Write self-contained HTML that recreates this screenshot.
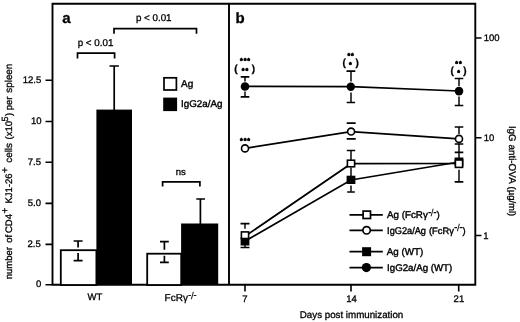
<!DOCTYPE html>
<html>
<head>
<meta charset="utf-8">
<title>Figure</title>
<style>
html,body{margin:0;padding:0;background:#fff;}
body{width:520px;height:322px;overflow:hidden;}
svg{display:block;}
text{font-family:"Liberation Sans",Arial,Helvetica,sans-serif;fill:#000;stroke:#000;stroke-width:0.3px;text-rendering:geometricPrecision;}
.t{font-size:9.5px;}
.l{font-size:10px;}
.l text,text.l{stroke-width:0.4px;}
.b{font-size:15px;font-weight:bold;}
.s{font-size:7px;font-weight:bold;letter-spacing:0.9px;}
.s text{stroke-width:0.75px;stroke-linejoin:round;}
.p{font-size:10px;font-weight:bold;}
.ln{stroke:#000;stroke-width:1.7;fill:none;}
.fr{stroke:#000;stroke-width:1.9;fill:none;}
.tk{stroke:#000;stroke-width:1.6;fill:none;}
.st{stroke:#000;stroke-width:1.45;fill:none;}
</style>
</head>
<body>
<svg width="520" height="322" viewBox="0 0 520 322">
<rect x="0" y="0" width="520" height="322" fill="#fff"/>

<!-- frame -->
<path class="fr" d="M52.5 284.7 V3.8 H475.3 V284.7 Z"/>
<path class="fr" d="M229 3.8 V284.7"/>

<!-- panel a y ticks -->
<path class="tk" d="M45.5 80.2 H52 M45.5 121.5 H52 M45.5 162.3 H52 M45.5 203.4 H52 M45.5 244.4 H52 M45.5 284.7 H52"/>
<g class="t" text-anchor="end">
<text x="41.2" y="82.7">12.5</text>
<text x="41.5" y="123.9">10</text>
<text x="41" y="164.8">7.5</text>
<text x="41" y="205.7">5.0</text>
<text x="40.8" y="246.7">2.5</text>
<text x="41.2" y="287.4">0</text>
</g>

<!-- y label a -->
<g class="t" style="font-size:9.5px">
<text transform="translate(12.3 279.3) rotate(-90)">number</text>
<text transform="translate(12.3 242.7) rotate(-90)">of</text>
<text transform="translate(12.3 233) rotate(-90)">CD4</text>
<text transform="translate(8.4 213.4) rotate(-90)" style="font-size:10px">+</text>
<text transform="translate(12.3 203.6) rotate(-90)">KJ1-26</text>
<text transform="translate(8.4 172.9) rotate(-90)" style="font-size:10px">+</text>
<text transform="translate(12.3 162.8) rotate(-90)" style="font-size:9.9px">cells</text>
<text transform="translate(12.3 139.5) rotate(-90)">(x10</text>
<text transform="translate(7.7 121.4) rotate(-90)" style="font-size:9px">5</text>
<text transform="translate(12.3 116) rotate(-90)">)</text>
<text transform="translate(12.3 110.2) rotate(-90)">per</text>
<text transform="translate(12.3 92.7) rotate(-90)" style="font-size:9.85px">spleen</text>
</g>

<!-- bars -->
<rect x="60.8" y="250.2" width="35.6" height="34.8" fill="#fff" stroke="#000" stroke-width="1.8"/>
<rect x="96.4" y="109.6" width="35.6" height="175.4" fill="#000"/>
<rect x="147.2" y="253.7" width="34" height="31.3" fill="#fff" stroke="#000" stroke-width="1.8"/>
<rect x="181.1" y="223.5" width="37.1" height="61.5" fill="#000"/>

<!-- error bars a -->
<path class="ln" d="M73.6 241 H82.6 M78.1 241 V247.6 M78.1 253 V260.7 M73.6 260.7 H82.6"/>
<path class="ln" d="M109.5 66 H118.9 M114.2 66 V110"/>
<path class="ln" d="M160 241.7 H168.8 M164.4 241.7 V249.8 M164.4 255.8 V262.4 M160 262.4 H168.8"/>
<path class="ln" d="M196.3 199 H205 M200.4 199 V224"/>

<!-- brackets -->
<path class="ln" d="M77.5 58.6 V53.2 H114.6 V58.6"/>
<path class="ln" d="M114 33.8 V28.6 H196.5 V33.8"/>
<path class="ln" d="M162.6 186.6 V181.8 H199.9 V186.6"/>
<text class="t" x="77.7" y="45.7" style="font-size:9.8px">p &lt; 0.01</text>
<text class="t" x="135.9" y="21.3" style="font-size:9.8px">p &lt; 0.01</text>
<text class="t" x="175.7" y="174.6">ns</text>

<!-- legend a -->
<rect x="164" y="77.8" width="12.4" height="12.2" fill="#fff" stroke="#000" stroke-width="1.7"/>
<rect x="163.2" y="97.6" width="13.9" height="13.5" fill="#000"/>
<text class="l" x="181" y="86.5">Ag</text>
<text class="l" x="181" y="107.3" style="font-size:9.8px">IgG2a/Ag</text>

<!-- x labels a -->
<text class="t" x="87.6" y="300">WT</text>
<text class="t" style="font-size:10px" x="164.6" y="301.3">FcRγ<tspan dy="-3.6" dx="0.3" font-size="9px">-</tspan><tspan dy="1.1" dx="-0.3" font-size="10px" stroke-width="0.1">/</tspan><tspan dy="-1.1" dx="-0.2" font-size="9px">-</tspan></text>

<!-- panel letters -->
<text class="b" x="62.3" y="23.2">a</text>
<text class="b" x="235.6" y="22.8">b</text>

<!-- panel b axes ticks -->
<path class="tk" d="M245 285 V291.5 M351 285 V291.5 M458.7 285 V291.5"/>
<g class="t" text-anchor="middle">
<text x="245" y="301.6">7</text>
<text x="351.6" y="301.9">14</text>
<text x="458.9" y="301.6">21</text>
</g>
<text class="t" x="299.8" y="317.9" style="font-size:9.75px">Days post immunization</text>
<path class="tk" d="M476 38 H481.5 M476 137.7 H481.5 M476 235.5 H481.5"/>
<g class="t">
<text x="483.7" y="41.4">100</text>
<text x="483.7" y="140.9">10</text>
<text x="483.3" y="238.9">1</text>
</g>
<text class="t" transform="translate(508.6 125.9) rotate(90)" style="font-size:9.7px">IgG</text>
<text class="t" transform="translate(508.6 144.4) rotate(90)" style="font-size:9.9px">anti-OVA</text>
<text class="t" transform="translate(508.6 186.5) rotate(90)" style="font-size:9.5px">(µg/ml)</text>

<!-- data lines b -->
<path class="ln" d="M245 241.2 L351 180 L459 162"/>
<path class="ln" d="M245 236.3 L351 163.7 L459 163.5"/>
<path class="ln" d="M245 148.4 L351 131.6 L459 138.9"/>
<path class="ln" d="M245 86.4 L351 86.6 L459 91"/>

<!-- error bars b -->
<g class="st">
<path d="M245 76.8 V81.4 M245 91.6 V96.8"/>
<path d="M351 71.2 V81.4 M351 92.4 V102.6"/>
<path d="M459 78.5 V86 M459 96.4 V105.5"/>
<path d="M459 127 V134 M459 143.6 V160 M459 169.8 V181.8"/>
<path d="M245 224 V228.8 M245 245 V247.5"/>
<path d="M351 150.5 V160 M351 167.5 V176 M351 185.6 V191.8"/>
</g>
<path class="ln" d="M240.7 76.8 H249.3 M240.7 96.8 H249.3 M346.5 71.2 H355.3 M346.7 102.5 H355.1 M454.7 78.5 H463.3 M454.7 105.5 H463.3"/>
<path class="ln" d="M346.7 123.1 H355.7 M346.7 138.8 H355.7"/>
<path class="ln" d="M454.7 127 H463.3 M454.7 144 H463.3 M454.7 152.3 H463.3 M454.7 181.8 H463.3"/>
<path class="ln" d="M240.5 223.6 H249.5 M240.5 247.5 H249.5"/>
<path class="ln" d="M346.8 150.5 H355.2 M347.2 192 H354.8"/>

<!-- markers b -->
<rect x="240.6" y="237.2" width="8.8" height="8.3" fill="#000"/>
<rect x="346.6" y="175.7" width="8.8" height="8.3" fill="#000"/>
<rect x="454.6" y="157.5" width="8.8" height="8.6" fill="#000"/>
<g fill="#fff" stroke="#000" stroke-width="1.6">
<rect x="241.4" y="231.9" width="7.2" height="6.6"/>
<rect x="347.4" y="160.2" width="7.2" height="6.6"/>
<rect x="455.4" y="160" width="7.2" height="7.4"/>
<circle cx="245" cy="148.4" r="3.5"/>
<circle cx="351.1" cy="131.6" r="3.45"/>
<circle cx="459" cy="138.9" r="3.5"/>
</g>
<circle cx="245" cy="86.5" r="4.3"/>
<circle cx="350.8" cy="86.8" r="4.2"/>
<circle cx="459" cy="91.1" r="4.3"/>

<!-- significance stars -->
<g class="s" text-anchor="middle">
<text x="245.5" y="63.4">***</text>
<text x="245.4" y="73">**</text>
<text x="245.5" y="143.2">***</text>
<text x="351" y="58">**</text>
<text x="350.7" y="66.8">*</text>
<text x="458.9" y="66.2">**</text>
<text x="459" y="75.2">*</text>
</g>
<g class="p">
<text x="234.2" y="72">(</text>
<text x="251.8" y="72">)</text>
<text x="342.6" y="65.8">(</text>
<text x="355.4" y="65.8">)</text>
<text x="450.4" y="74">(</text>
<text x="463.2" y="74">)</text>
</g>

<!-- legend b -->
<path class="ln" d="M349.5 214.8 H382.8 M349.5 230.3 H382.8 M349.5 251.7 H382.8 M349.5 267.6 H382.8"/>
<rect x="363.1" y="211.1" width="7.4" height="7.4" fill="#fff" stroke="#000" stroke-width="1.7"/>
<circle cx="366.6" cy="230.3" r="3.7" fill="#fff" stroke="#000" stroke-width="1.7"/>
<rect x="362.1" y="247.2" width="9" height="9" fill="#000"/>
<circle cx="366.4" cy="267.6" r="4.6" fill="#000"/>
<g class="l">
<text x="387" y="218.3" style="font-size:9.8px">Ag (FcRγ<tspan dy="-3.6" dx="0.3" font-size="9px">-</tspan><tspan dy="1.1" dx="-0.3" font-size="10px" stroke-width="0.1">/</tspan><tspan dy="-1.1" dx="-0.2" font-size="9px">-</tspan><tspan dy="3.6">)</tspan></text>
<text x="387.1" y="233.6" style="font-size:9.8px" textLength="38.9" lengthAdjust="spacingAndGlyphs">IgG2a/Ag</text>
<text x="428.9" y="233.6" style="font-size:9.4px">(FcRγ<tspan dy="-3.6" dx="0.3" font-size="9px">-</tspan><tspan dy="1.1" dx="-0.3" font-size="10px" stroke-width="0.1">/</tspan><tspan dy="-1.1" dx="-0.2" font-size="9px">-</tspan><tspan dy="3.6">)</tspan></text>
<text x="386.8" y="254.7" style="font-size:9.8px">Ag (WT)</text>
<text x="387.1" y="270.7" style="font-size:9.7px">IgG2a/Ag (WT)</text>
</g>
</svg>
</body>
</html>
